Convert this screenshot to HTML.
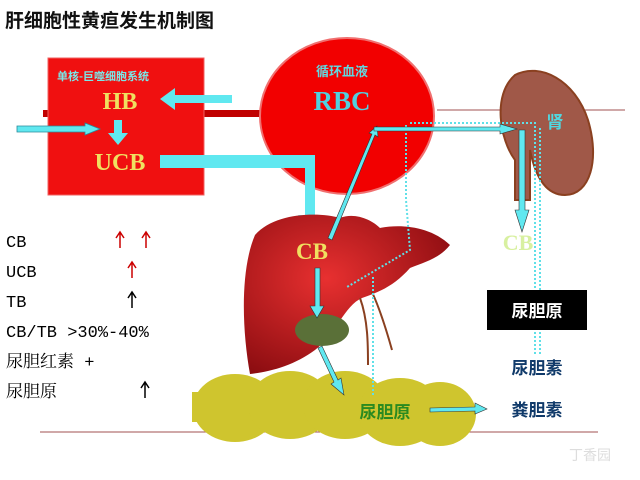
<!DOCTYPE html>
<html><head><meta charset="utf-8"><style>
html,body{margin:0;padding:0;background:#fff;}
svg{display:block;}
</style></head><body>
<svg width="640" height="480" viewBox="0 0 640 480" xmlns="http://www.w3.org/2000/svg">
<defs>
<radialGradient id="lv" cx="0.4" cy="0.4" r="0.7">
<stop offset="0" stop-color="#e83030"/><stop offset="1" stop-color="#8a0c10"/></radialGradient>
</defs>
<text x="5" y="27" font-family="'Liberation Sans','Noto Sans CJK SC',sans-serif" font-size="19" font-weight="bold" fill="#111">肝细胞性黄疸发生机制图</text>
<rect x="43" y="110" width="220" height="7" fill="#c00000"/>
<line x1="437" y1="110" x2="625" y2="110" stroke="#a05050" stroke-width="1"/>
<line x1="40" y1="432" x2="598" y2="432" stroke="#a05050" stroke-width="1"/>
<rect x="48" y="58" width="156" height="137" fill="#f01010" stroke="#f06060" stroke-width="1"/>
<ellipse cx="347" cy="116" rx="87" ry="78" fill="#f20000" stroke="#f07070" stroke-width="2"/>
<text x="103" y="80" text-anchor="middle" font-family="'Noto Sans CJK SC',sans-serif" font-size="11" font-weight="bold" fill="#7ae8e8">单核-巨噬细胞系统</text>
<text x="120" y="109" text-anchor="middle" font-family="'Liberation Serif',serif" font-size="24" font-weight="bold" fill="#f0e060">HB</text>
<text x="120" y="170" text-anchor="middle" font-family="'Liberation Serif',serif" font-size="24" font-weight="bold" fill="#f0e060">UCB</text>
<text x="342" y="76" text-anchor="middle" font-family="'Noto Sans CJK SC',sans-serif" font-size="13" font-weight="bold" fill="#60d8e0">循环血液</text>
<text x="342" y="110" text-anchor="middle" font-family="'Liberation Serif',serif" font-size="27" font-weight="bold" fill="#50d0e0">RBC</text>
<polygon points="232,95 175,95 175,88 160,99 175,110 175,103 232,103" fill="#60e8f0"/>
<polygon points="114,120 122,120 122,133 128,133 118,145 108,133 114,133" fill="#60e8f0"/>
<polygon points="17,126 85,126 85,123 100,129 85,135 85,132 17,132" fill="#60e8f0" stroke="#2a8a9a" stroke-width="0.8"/>
<polygon points="160,155 315,155 315,215 322,215 310,228 298,215 305,215 305,168 160,168" fill="#60e8f0"/>
<path d="M515,75 C540,62 575,80 588,120 C600,160 590,195 565,195 C545,195 535,175 530,150 L530,200 L515,200 L515,160 C500,140 492,95 515,75 Z" fill="#a05848" stroke="#8a4020" stroke-width="2"/>
<text x="555" y="128" text-anchor="middle" font-family="'Noto Sans CJK SC',sans-serif" font-size="17" font-weight="bold" fill="#50d8e0">肾</text>
<path d="M255,235 C275,212 320,212 340,218 C355,212 372,220 380,228 C400,224 430,226 450,245 C440,258 425,262 410,268 C395,285 380,292 362,298 C345,305 335,335 315,350 C295,365 270,372 250,374 C242,330 240,270 255,235 Z" fill="url(#lv)"/>
<path d="M360,298 C368,320 368,345 368,365 M372,292 C378,305 385,325 392,350" stroke="#8a4020" stroke-width="2" fill="none"/>
<text x="312" y="259" text-anchor="middle" font-family="'Liberation Serif',serif" font-size="23" font-weight="bold" fill="#f0e060">CB</text>
<ellipse cx="322" cy="330" rx="27" ry="16" fill="#5a7038"/>
<g fill="#cfc52e">
<ellipse cx="235" cy="408" rx="42" ry="34"/><ellipse cx="290" cy="405" rx="42" ry="34"/>
<ellipse cx="345" cy="405" rx="42" ry="34"/><ellipse cx="400" cy="412" rx="42" ry="34"/>
<ellipse cx="440" cy="414" rx="36" ry="32"/><rect x="192" y="392" width="30" height="30"/>
</g>
<g stroke="#60e0e8" stroke-width="2" stroke-dasharray="2,2" fill="none">
<path d="M406,125 L406,200 L410,250 L347,287"/>
<path d="M410,123 L535,123 L535,290"/>
<path d="M540,128 L540,290"/>
<path d="M535,332 L535,355 M540,332 L540,355"/>
<path d="M373,277 L373,395"/>
</g>
<polygon points="328,238 332,240 375,135 378,137 377,126 369,133 372,134" fill="#60e8f0" stroke="#333" stroke-width="0.6"/>
<polygon points="374,127 500,127 500,124 517,129 500,134 500,131 374,131" fill="#60e8f0" stroke="#333" stroke-width="0.6"/>
<polygon points="519,130 525,130 525,210 529,210 522,232 515,210 519,210" fill="#60e8f0" stroke="#333" stroke-width="0.6"/>
<polygon points="315,268 320,268 320,306 324,306 317,318 310,306 315,306" fill="#60e8f0" stroke="#333" stroke-width="0.6"/>
<polygon points="318,348 322,346 338,380 341,378 344,395 331,384 334,382" fill="#60e8f0" stroke="#333" stroke-width="0.6"/>
<polygon points="430,408 475,407 475,403 487,409 475,414 475,411 430,412" fill="#60e8f0" stroke="#333" stroke-width="0.6"/>
<text x="518" y="250" text-anchor="middle" font-family="'Liberation Serif',serif" font-size="22" font-weight="bold" fill="#d8f0a0">CB</text>
<rect x="487" y="290" width="100" height="40" fill="#000"/>
<g font-family="'Noto Sans CJK SC',sans-serif" font-size="17" font-weight="bold" text-anchor="middle">
<text x="537" y="317" fill="#fff">尿胆原</text>
<text x="537" y="374" fill="#103a6a">尿胆素</text>
<text x="537" y="416" fill="#103a6a">粪胆素</text>
<text x="385" y="418" fill="#2a8a20">尿胆原</text>
</g>
<g font-family="'Liberation Mono','Noto Serif CJK SC',monospace" font-size="17" fill="#000">
<text x="6" y="247">CB</text><text x="6" y="277">UCB</text><text x="6" y="307">TB</text>
<text x="6" y="337">CB/TB &gt;30%-40%</text>
<text x="6" y="367">尿胆红素   +</text><text x="6" y="397">尿胆原</text>
</g>
<g stroke-width="1.5" fill="none">
<path d="M120,248 V233 M116,238 L120,232 L124,238" stroke="#c00"/>
<path d="M146,248 V233 M142,238 L146,232 L150,238" stroke="#c00"/>
<path d="M132,278 V263 M128,268 L132,262 L136,268" stroke="#c00"/>
<path d="M132,308 V293 M128,298 L132,292 L136,298" stroke="#000"/>
<path d="M145,398 V383 M141,388 L145,382 L149,388" stroke="#000"/>
</g>
<text x="590" y="460" font-family="'Noto Sans CJK SC',sans-serif" font-size="14" fill="#ddd" text-anchor="middle">丁香园</text>
</svg>
</body></html>
